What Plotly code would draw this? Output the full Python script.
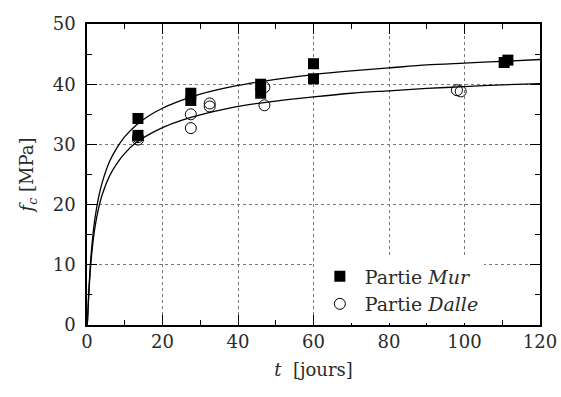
import plotly.graph_objects as go

# Measured points
mur_t = [13.5, 13.5, 27.5, 27.5, 46, 46, 60, 60, 110.5, 111.5]
mur_fc = [34.3, 31.5, 38.5, 37.3, 40.0, 38.5, 43.4, 40.9, 43.6, 44.0]

dalle_t = [13.5, 13.5, 27.5, 27.5, 32.5, 32.5, 47, 47, 98, 99]
dalle_fc = [30.8, 31.2, 35.0, 32.7, 36.8, 36.3, 39.5, 36.5, 39.0, 38.8]

# Fitted curves
curve_t = [0, 0.1, 0.25, 0.5, 1, 1.5, 2, 3, 4, 6, 8, 10, 13, 16, 20, 25, 30,
           40, 50, 60, 70, 80, 90, 100, 110, 120]
mur_curve_fc = [0, 0.4, 2.4, 5.8, 11.0, 14.5, 17.2, 21.0, 23.6, 27.2, 29.5, 31.3,
                33.2, 34.6, 36.0, 37.3, 38.35, 39.8, 40.8, 41.6, 42.2, 42.7, 43.2,
                43.5, 43.8, 44.1]
dalle_curve_fc = [0, 0.4, 2.2, 5.4, 10.1, 13.3, 15.8, 19.2, 21.6, 24.8, 26.9, 28.5,
                  30.3, 31.5, 32.8, 34.0, 34.9, 36.3, 37.2, 37.9, 38.5, 38.9, 39.3,
                  39.6, 39.9, 40.1]

x_ticks = [0, 20, 40, 60, 80, 100, 120]
y_ticks = [0, 10, 20, 30, 40, 50]

FONT = "DejaVu Serif"
TXT = "#2a2a2a"

fig = go.Figure()
for fc in (mur_curve_fc, dalle_curve_fc):
    fig.add_trace(go.Scatter(x=curve_t, y=fc, mode="lines",
                             line=dict(color="black", width=1.3, shape="spline", smoothing=0.8),
                             showlegend=False, hoverinfo="skip"))
fig.add_trace(go.Scatter(x=mur_t, y=mur_fc, mode="markers", name="Partie <i>Mur</i>",
                         marker=dict(symbol="square", size=11, color="black",
                                     line=dict(width=0))))
fig.add_trace(go.Scatter(x=dalle_t, y=dalle_fc, mode="markers", name="Partie <i>Dalle</i>",
                         marker=dict(symbol="circle-open", size=11, color="black",
                                     line=dict(width=1, color="black"))))

axis_common = dict(
    showline=True, linecolor="black", linewidth=1.5, mirror="ticks",
    ticks="inside", ticklen=10, tickwidth=1, tickcolor="black",
    showgrid=True, gridcolor="#777", griddash="dot", gridwidth=1,
    zeroline=False, automargin=False,
    tickfont=dict(family=FONT, size=18, color=TXT),
)

fig.update_xaxes(range=[0, 120], tickvals=x_ticks,
                 minor=dict(ticks="inside", ticklen=5, dtick=10, tick0=0, tickcolor="black", showgrid=False),
                 title=dict(text="<i>t</i>  [jours]", font=dict(family=FONT, size=18, color=TXT), standoff=12),
                 **axis_common)
fig.update_yaxes(range=[0, 50], tickvals=y_ticks, ticklabelstandoff=6,
                 minor=dict(ticks="inside", ticklen=5, dtick=5, tick0=0, tickcolor="black", showgrid=False),
                 title=dict(text="<i>f</i><sub><i>c</i></sub> [MPa]", font=dict(family=FONT, size=18, color=TXT), standoff=14),
                 **axis_common)

fig.update_layout(
    width=561, height=397,
    margin=dict(l=87, r=21, t=24, b=72),
    plot_bgcolor="white", paper_bgcolor="white",
    font=dict(family=FONT),
    legend=dict(x=0.503, y=0.225, xanchor="left", yanchor="top",
                bgcolor="white", borderwidth=0,
                font=dict(family=FONT, size=19, color=TXT),
                tracegroupgap=0, itemwidth=40),
)

fig.write_html("out.html")
